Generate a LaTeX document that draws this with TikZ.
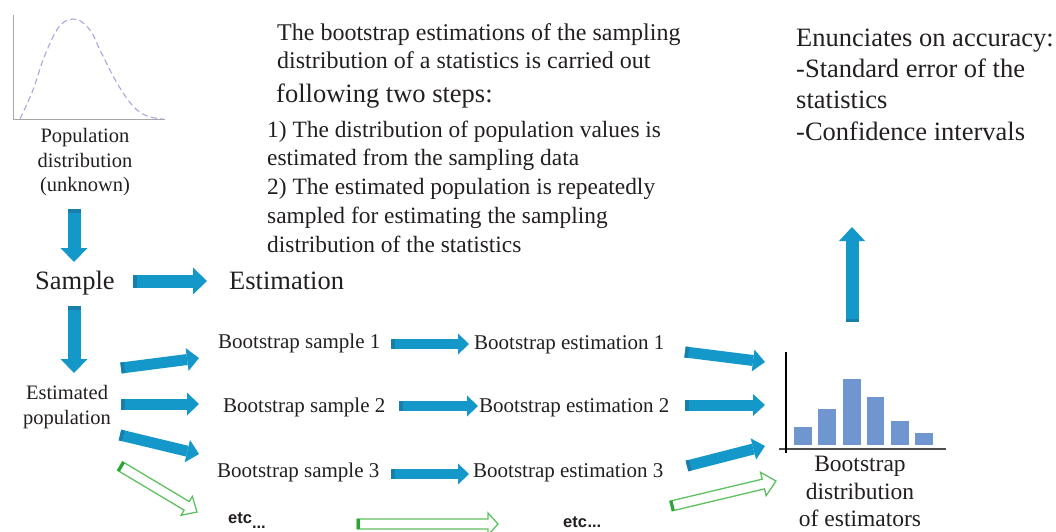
\documentclass[tikz,border=0pt]{standalone}
\usepackage{fontspec}
\setmainfont{Liberation Serif}
\newfontfamily\etcfont{Liberation Sans}
\usetikzlibrary{arrows.meta,calc}
\definecolor{blueA}{RGB}{20,152,201}
\definecolor{blueD}{RGB}{24,126,170}
\definecolor{greenA}{RGB}{95,192,95}
\definecolor{greenD}{RGB}{40,165,50}
\definecolor{barC}{RGB}{112,150,207}
\definecolor{curveC}{RGB}{168,168,222}
\definecolor{txt}{RGB}{35,31,32}
\newcommand\fsz[1]{\fontsize{#1}{#1}\selectfont}
% blue block arrow: from, to, shaft width, head width, head length
\newcommand\bluearrow[5]{%
  \draw[line width=#3, blueA, -{Triangle[length=#5, width=#4, line width=0pt]}] (#1) -- (#2);
  \draw[line width=#3, blueD] (#1) -- ($(#1)!3.5pt!(#2)$);}
% hollow green arrow: from, to, half shaft, half head, head length
\newcommand\hollowarrow[5]{%
  \path let \p1=($(#2)-(#1)$), \n1={atan2(\y1,\x1)}, \n2={veclen(\x1,\y1)} in
    \pgfextra{\xdef\hang{\n1}\xdef\hlen{\n2}};
  \begin{scope}[shift={(#1)}, rotate=\hang]
    \draw[greenA, line width=1.3pt, line join=miter]
      (0,-#3) -- ({\hlen-#5},-#3) -- ({\hlen-#5},-#4) -- (\hlen,0) --
      ({\hlen-#5},#4) -- ({\hlen-#5},#3) -- (0,#3) -- cycle;
    \draw[greenD, line width=3pt] (1.2,-#3) -- (1.2,#3);
  \end{scope}}
\begin{document}
\begin{tikzpicture}[x=1pt, y=-1pt,
  every node/.style={inner sep=0pt, text=txt},
  lbl/.style={font=\fsz{20.5}},
  big/.style={font=\fsz{26.5}},
  bs/.style={font=\fsz{21}, anchor=base west},
  etc/.style={font=\etcfont\bfseries\fsz{16.5}, anchor=base west}]
\useasboundingbox (0,0) rectangle (1056,531);
\clip (0,0) rectangle (1056,531);

% ---------- population distribution plot ----------
\draw[gray!70, line width=1pt] (13,15) -- (13,119) -- (165,119);
\draw[curveC, line width=1.1pt, dash pattern=on 6pt off 3.5pt]
  plot[smooth, tension=0.6] coordinates {(20,119) (33,90) (43,60) (55,33) (64,22) (73,19)
  (82,22) (92,33) (100,50) (117,83) (133,106) (147,116) (163,119)};
\node[lbl, anchor=base] (pop1) at (85,142) {Population};
\node[lbl, anchor=base] (pop2) at (85,167) {distribution};
\node[lbl, anchor=base] (pop3) at (85,191) {(unknown)};

% ---------- sample / estimation ----------
\node[big, anchor=base west] (sample) at (35,289) {Sample};
\node[big, anchor=base west] (estim) at (229,289) {Estimation};

\coordinate (d1a) at (74,209); \coordinate (d1b) at (74,262);
\coordinate (s1a) at (133,281); \coordinate (s1b) at (207,281);
\coordinate (d2a) at (74,306); \coordinate (d2b) at (74,373);
\bluearrow{d1a}{d1b}{13pt}{27pt}{14pt}
\bluearrow{s1a}{s1b}{13pt}{27pt}{14pt}
\bluearrow{d2a}{d2b}{13pt}{27pt}{14pt}

% ---------- estimated population ----------
\node[lbl, anchor=base] (ep1) at (67,399) {Estimated};
\node[lbl, anchor=base] (ep2) at (67,424) {population};

\coordinate (e1a) at (121,368); \coordinate (e1b) at (199,358);
\coordinate (e2a) at (121,404); \coordinate (e2b) at (199,404);
\coordinate (e3a) at (120,435); \coordinate (e3b) at (199,454);
\bluearrow{e1a}{e1b}{11pt}{23pt}{12pt}
\bluearrow{e2a}{e2b}{11pt}{23pt}{12pt}
\bluearrow{e3a}{e3b}{11pt}{23pt}{12pt}
\coordinate (g1a) at (120,466); \coordinate (g1b) at (197,512);
\hollowarrow{g1a}{g1b}{5}{11}{12}

% ---------- bootstrap samples / estimations ----------
\node[bs] (bs1) at (218,348) {Bootstrap sample 1};
\node[bs] (bs2) at (223,412) {Bootstrap sample 2};
\node[bs] (bs3) at (217,477) {Bootstrap sample 3};
\node[bs] (be1) at (474,349) {Bootstrap estimation 1};
\node[bs] (be2) at (479,412) {Bootstrap estimation 2};
\node[bs] (be3) at (473,477) {Bootstrap estimation 3};

\coordinate (m1a) at (391,344); \coordinate (m1b) at (469,344);
\coordinate (m2a) at (399,406); \coordinate (m2b) at (478,406);
\coordinate (m3a) at (391,474); \coordinate (m3b) at (469,474);
\bluearrow{m1a}{m1b}{10pt}{21pt}{11pt}
\bluearrow{m2a}{m2b}{10pt}{21pt}{11pt}
\bluearrow{m3a}{m3b}{10pt}{21pt}{11pt}

\node[etc] (etc1) at (228,523) {etc\raisebox{-5pt}{...}};
\node[etc] (etc2) at (563,527) {etc\kern0.5pt...};
\coordinate (g2a) at (357,524); \coordinate (g2b) at (498,524);
\hollowarrow{g2a}{g2b}{5}{11}{10}

% ---------- arrows to histogram ----------
\coordinate (h1a) at (685,352); \coordinate (h1b) at (765,362);
\coordinate (h2a) at (685,405); \coordinate (h2b) at (765,405);
\coordinate (h3a) at (687,466); \coordinate (h3b) at (765,446);
\bluearrow{h1a}{h1b}{11pt}{22pt}{12pt}
\bluearrow{h2a}{h2b}{11pt}{22pt}{12pt}
\bluearrow{h3a}{h3b}{11pt}{22pt}{12pt}
\coordinate (g3a) at (671,506); \coordinate (g3b) at (776,481);
\hollowarrow{g3a}{g3b}{5}{12}{13}

% ---------- histogram ----------
\foreach \xa/\xb/\yt in {794.3/811.7/426.7, 817.7/836/409.3, 842.7/860.7/379.3,
                          866.7/884.3/397.3, 890.7/908.7/421, 915/933.3/433.3}
  \fill[barC] (\xa,\yt) rectangle (\xb,445);
\draw[black!70, line width=1.4pt] (779,449) -- (946,449);
\draw[black, line width=2pt] (786,352) -- (786,453);
\node[font=\fsz{23.5}, anchor=base] (hd1) at (860,471) {Bootstrap};
\node[font=\fsz{23.5}, anchor=base] (hd2) at (860,499) {distribution};
\node[font=\fsz{23.5}, anchor=base] (hd3) at (860,526) {of estimators};

% ---------- up arrow ----------
\coordinate (ua) at (852,322); \coordinate (ub) at (852,227);
\bluearrow{ua}{ub}{13pt}{26pt}{14pt}

% ---------- top-right text ----------
\node[font=\fsz{26.5}, anchor=base west] (acc1) at (796,46) {Enunciates on accuracy:};
\node[font=\fsz{26.5}, anchor=base west] (acc2) at (796,77) {-Standard error of the};
\node[font=\fsz{26.5}, anchor=base west] (acc3) at (796,108) {statistics};
\node[font=\fsz{26.5}, anchor=base west] (acc4) at (796,140) {-Confidence intervals};

% ---------- middle text ----------
\node[font=\fsz{24}, anchor=base west] (mt1) at (277,40) {The bootstrap estimations of the sampling};
\node[font=\fsz{24}, anchor=base west] (mt2) at (277,68) {distribution of a statistics is carried out};
\node[font=\fsz{26.5}, anchor=base west] (mt3) at (276,102) {following two steps:};
\node[font=\fsz{23.4}, anchor=base west] (st1) at (267,137) {1) The distribution of population values is};
\node[font=\fsz{23.4}, anchor=base west] (st2) at (267,165) {estimated from the sampling data};
\node[font=\fsz{23.4}, anchor=base west] (st3) at (267,194) {2) The estimated population is repeatedly};
\node[font=\fsz{23.4}, anchor=base west] (st4) at (267,223) {sampled for estimating the sampling};
\node[font=\fsz{23.4}, anchor=base west] (st5) at (267,252) {distribution of the statistics};
\end{tikzpicture}
\end{document}
